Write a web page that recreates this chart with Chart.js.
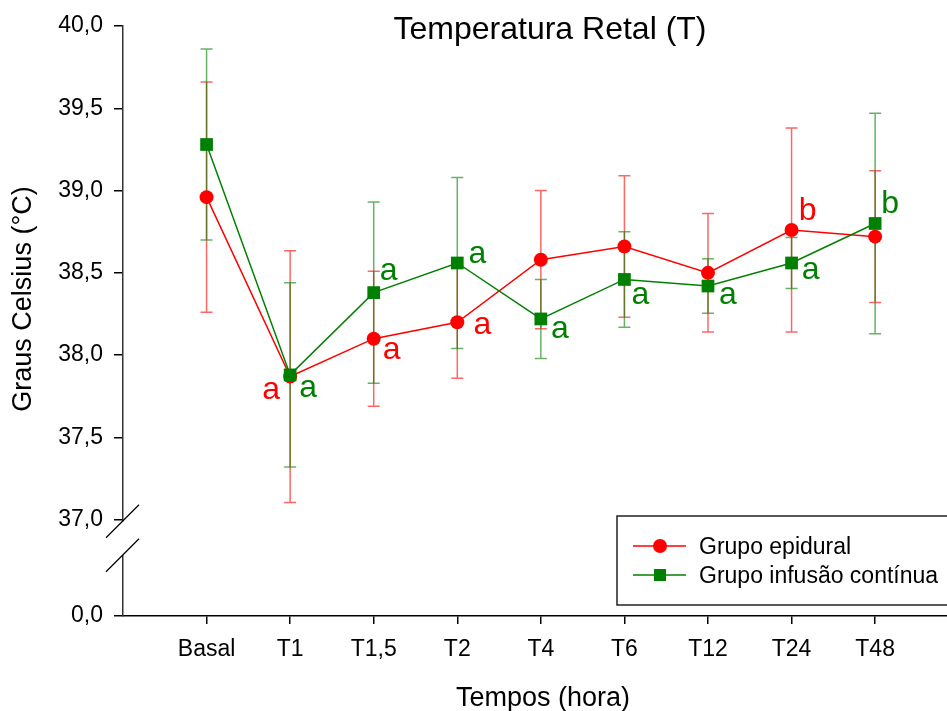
<!DOCTYPE html>
<html>
<head>
<meta charset="utf-8">
<script src="https://cdn.jsdelivr.net/npm/chart.js@4.4.1/dist/chart.umd.min.js"></script>
<style>
  html, body { margin: 0; padding: 0; background: #fff; }
</style>
</head>
<body>
<canvas id="grafico" width="947" height="711"></canvas>
<script>
// dados
const categorias = ['Basal', 'T1', 'T1,5', 'T2', 'T4', 'T6', 'T12', 'T24', 'T48'];

const epidural    = [38.96, 37.87, 38.10, 38.20, 38.58, 38.66, 38.50, 38.76, 38.72];
const epiduralErr = [0.70, 0.765, 0.41, 0.34, 0.42, 0.43, 0.36, 0.62, 0.40];
const epiduralLetras = ['', 'a', 'a', 'a', '', '', '', 'b', ''];

const infusao    = [39.28, 37.88, 38.38, 38.56, 38.22, 38.46, 38.42, 38.56, 38.80];
const infusaoErr = [0.58, 0.56, 0.55, 0.52, 0.24, 0.29, 0.165, 0.155, 0.67];
const infusaoLetras = ['', 'a', 'a', 'a', 'a', 'a', 'a', 'a', 'b'];

const yTicks = [37.0, 37.5, 38.0, 38.5, 39.0, 39.5, 40.0];
const rotuloZero = '0,0';

// posição das letras em relação ao ponto (dx, dy em px)
const offEpidural = [null, [-19, 22], [18, 20], [25, 12], null, null, null, [16, -10], null];
const offInfusao  = [null, [18, 22], [15, -13], [20, 0], [19, 19], [16, 25], [20, 18], [19, 16], [15, -10]];

const yMin = 36.415; // onde fica o 0,0 depois da quebra
const fonte = "'Liberation Sans', Arial, sans-serif";
const VERMELHO = '#ff0000';
const VERDE = '#008000';

const barrasErro = {
  id: 'barrasErro',
  beforeDatasetsDraw(chart) {
    const ctx = chart.ctx;
    const x = chart.scales.x, y = chart.scales.y;
    const series = [
      [epidural, epiduralErr, 'rgba(255,0,0,0.6)'],
      [infusao, infusaoErr, 'rgba(0,128,0,0.6)']
    ];
    ctx.save();
    ctx.lineWidth = 1.5;
    series.forEach(([vals, errs, cor]) => {
      ctx.strokeStyle = cor;
      vals.forEach((v, i) => {
        const px = x.getPixelForValue(i);
        const top = y.getPixelForValue(v + errs[i]);
        const bot = y.getPixelForValue(v - errs[i]);
        ctx.beginPath();
        ctx.moveTo(px, top); ctx.lineTo(px, bot);
        ctx.moveTo(px - 6, top); ctx.lineTo(px + 6, top);
        ctx.moveTo(px - 6, bot); ctx.lineTo(px + 6, bot);
        ctx.stroke();
      });
    });
    ctx.restore();
  }
};

const extras = {
  id: 'extras',
  afterDraw(chart) {
    const ctx = chart.ctx;
    const x = chart.scales.x, y = chart.scales.y;
    ctx.save();

    // letras
    ctx.font = '32px ' + fonte;
    ctx.textAlign = 'center';
    ctx.textBaseline = 'alphabetic';
    [[epidural, epiduralLetras, offEpidural, VERMELHO], [infusao, infusaoLetras, offInfusao, VERDE]].forEach(([vals, letras, offs, cor]) => {
      ctx.fillStyle = cor;
      letras.forEach((l, i) => {
        if (!l) return;
        const px = x.getPixelForValue(i), py = y.getPixelForValue(vals[i]);
        ctx.fillText(l, px + offs[i][0], py + offs[i][1]);
      });
    });

    // quebra do eixo y
    const left = chart.chartArea.left;
    const y37 = y.getPixelForValue(37);
    ctx.fillStyle = '#fff';
    ctx.fillRect(left - 4, y37 + 2, 8, 33);
    ctx.strokeStyle = '#000';
    ctx.lineWidth = 1.2;
    ctx.beginPath();
    ctx.moveTo(left - 17, y37 + 18); ctx.lineTo(left + 16, y37 - 15);
    ctx.moveTo(left - 17, y37 + 52); ctx.lineTo(left + 16, y37 + 19);
    ctx.stroke();

    // títulos
    ctx.fillStyle = '#000';
    ctx.textAlign = 'center';
    ctx.font = '32px ' + fonte;
    ctx.fillText('Temperatura Retal (T)', 550, 39);
    ctx.font = '27px ' + fonte;
    ctx.fillText('Tempos (hora)', 543, 706);
    ctx.save();
    ctx.translate(31, 299);
    ctx.rotate(-Math.PI / 2);
    ctx.fillText('Graus Celsius (°C)', 0, 0);
    ctx.restore();

    // legenda
    ctx.strokeStyle = '#222';
    ctx.lineWidth = 1.5;
    ctx.strokeRect(617, 516, 345, 89);
    ctx.lineWidth = 1.5;
    ctx.strokeStyle = VERMELHO;
    ctx.beginPath(); ctx.moveTo(633, 546); ctx.lineTo(686, 546); ctx.stroke();
    ctx.fillStyle = VERMELHO;
    ctx.beginPath(); ctx.arc(660, 546, 7, 0, Math.PI * 2); ctx.fill();
    ctx.strokeStyle = VERDE;
    ctx.beginPath(); ctx.moveTo(633, 575); ctx.lineTo(686, 575); ctx.stroke();
    ctx.fillStyle = VERDE;
    ctx.fillRect(654, 569, 12, 12);
    ctx.fillStyle = '#000';
    ctx.textAlign = 'left';
    ctx.font = '23px ' + fonte;
    ctx.fillText('Grupo epidural', 699, 554);
    ctx.fillText('Grupo infusão contínua', 699, 583);

    ctx.restore();
  }
};

new Chart(document.getElementById('grafico'), {
  type: 'line',
  data: {
    datasets: [
      {
        label: 'Grupo epidural',
        data: epidural.map((v, i) => ({ x: i, y: v })),
        borderColor: VERMELHO,
        backgroundColor: VERMELHO,
        borderWidth: 1.5,
        pointStyle: 'circle',
        pointRadius: 7,
        pointBorderWidth: 0,
        order: 1
      },
      {
        label: 'Grupo infusão contínua',
        data: infusao.map((v, i) => ({ x: i, y: v })),
        borderColor: VERDE,
        backgroundColor: VERDE,
        borderWidth: 1.5,
        pointStyle: 'rect',
        pointRadius: 9,
        pointBorderWidth: 0,
        order: 0
      }
    ]
  },
  options: {
    responsive: false,
    animation: false,
    devicePixelRatio: 1,
    layout: { autoPadding: false, padding: { top: 26, right: 0, bottom: 0, left: 0 } },
    plugins: {
      legend: { display: false },
      tooltip: { enabled: false }
    },
    scales: {
      x: {
        type: 'linear',
        min: -1,
        max: 8.86,
        afterBuildTicks: s => { s.ticks = categorias.map((c, i) => ({ value: i })); },
        afterFit: s => { s.height = 95; s.paddingLeft = 0; s.paddingRight = 0; },
        grid: { drawOnChartArea: false, tickLength: 8, color: '#000', lineWidth: 1.5 },
        border: { color: '#000', width: 1.5 },
        ticks: {
          color: '#000',
          font: { family: fonte, size: 23 },
          padding: 12,
          maxRotation: 0,
          callback: v => categorias[v] ?? ''
        }
      },
      y: {
        type: 'linear',
        min: yMin,
        max: 40,
        afterBuildTicks: s => { s.ticks = [yMin, ...yTicks].map(v => ({ value: v })); },
        afterFit: s => { s.width = 123; },
        grid: { drawOnChartArea: false, tickLength: 9, color: '#000', lineWidth: 1.5 },
        border: { color: '#333', width: 1.5 },
        ticks: {
          color: '#000',
          font: { family: fonte, size: 23 },
          padding: 11,
          callback: v => v === yMin ? rotuloZero : v.toFixed(1).replace('.', ',')
        }
      }
    }
  },
  plugins: [barrasErro, extras]
});
</script>
</body>
</html>
